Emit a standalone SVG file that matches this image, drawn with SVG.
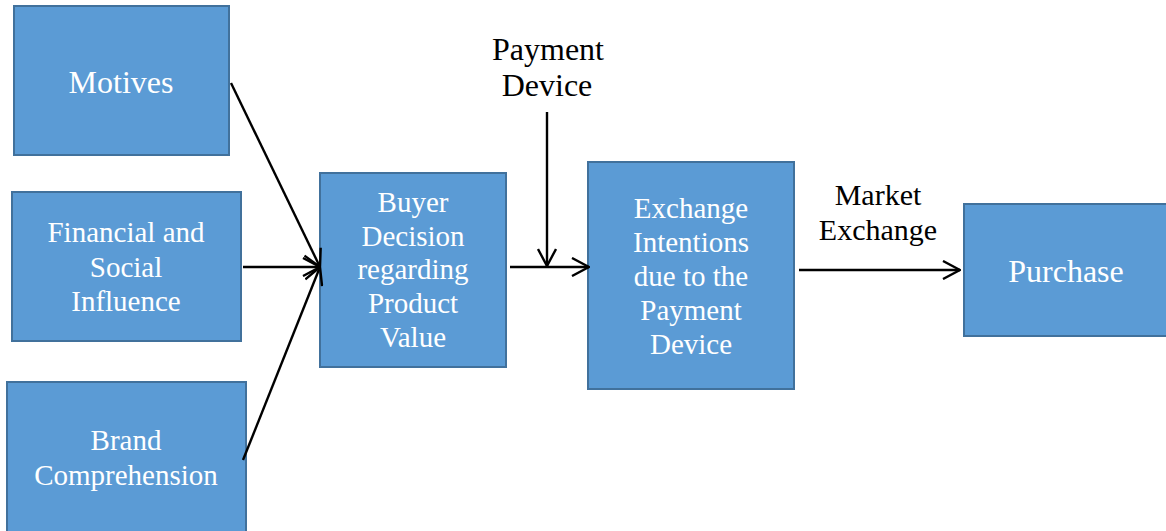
<svg xmlns="http://www.w3.org/2000/svg" width="1166" height="531" viewBox="0 0 1166 531">
  <style>
    .box { fill: #5B9BD5; stroke: #41719C; stroke-width: 2; }
    .in { fill: #ffffff; text-anchor: middle; font-size: 29px; }
    .lbl { fill: #000000; text-anchor: middle; font-size: 30px; }
    .big { font-size: 32px; }
    .edge { stroke: #000000; stroke-width: 2.4; fill: none; marker-end: url(#open); }
  </style>
  <defs>
    <marker id="open" viewBox="0 0 20 20" refX="19" refY="10" markerWidth="20" markerHeight="20" markerUnits="userSpaceOnUse" orient="auto">
      <path d="M2,1 L19,10 L2,19" fill="none" stroke="#000" stroke-width="2.4"/>
    </marker>
  </defs>
  <rect width="1166" height="531" fill="#ffffff"/>

  <g font-family="Liberation Serif, DejaVu Serif, serif">
  <g id="motives">
    <rect class="box" x="14" y="6" width="215" height="149"/>
    <text class="in big" x="121" y="93">Motives</text>
  </g>
  <g id="financial">
    <rect class="box" x="12" y="192" width="229" height="149"/>
    <text class="in" x="126" y="242">Financial and</text>
    <text class="in" x="126" y="277">Social</text>
    <text class="in" x="126" y="311">Influence</text>
  </g>
  <g id="brand">
    <rect class="box" x="7" y="382" width="239" height="152"/>
    <text class="in" x="126" y="450">Brand</text>
    <text class="in" x="126" y="485">Comprehension</text>
  </g>
  <g id="buyer">
    <rect class="box" x="320" y="173" width="186" height="194"/>
    <text class="in" x="413" y="212">Buyer</text>
    <text class="in" x="413" y="246">Decision</text>
    <text class="in" x="413" y="279">regarding</text>
    <text class="in" x="413" y="313">Product</text>
    <text class="in" x="413" y="347">Value</text>
  </g>
  <g id="exchange">
    <rect class="box" x="588" y="162" width="206" height="227"/>
    <text class="in" x="691" y="218">Exchange</text>
    <text class="in" x="691" y="252">Intentions</text>
    <text class="in" x="691" y="286">due to the</text>
    <text class="in" x="691" y="320">Payment</text>
    <text class="in" x="691" y="354">Device</text>
  </g>
  <g id="purchase">
    <rect class="box" x="964" y="204" width="206" height="132"/>
    <text class="in big" x="1066" y="282">Purchase</text>
  </g>
  <g id="payment-label">
    <text class="lbl big" x="548" y="60">Payment</text>
    <text class="lbl big" x="547" y="96">Device</text>
  </g>
  <g id="market-label">
    <text class="lbl" x="878" y="205">Market</text>
    <text class="lbl" x="878" y="240">Exchange</text>
  </g>
  </g>

  <g id="connectors">
    <line class="edge" x1="231" y1="83" x2="320" y2="267"/>
    <line class="edge" x1="243" y1="267" x2="320" y2="267"/>
    <line class="edge" x1="243" y1="460" x2="320" y2="267"/>
    <line class="edge" x1="510" y1="267" x2="589" y2="267"/>
    <line class="edge" x1="547" y1="112" x2="547" y2="266"/>
    <line class="edge" x1="799" y1="270" x2="960" y2="270"/>
  </g>
</svg>
